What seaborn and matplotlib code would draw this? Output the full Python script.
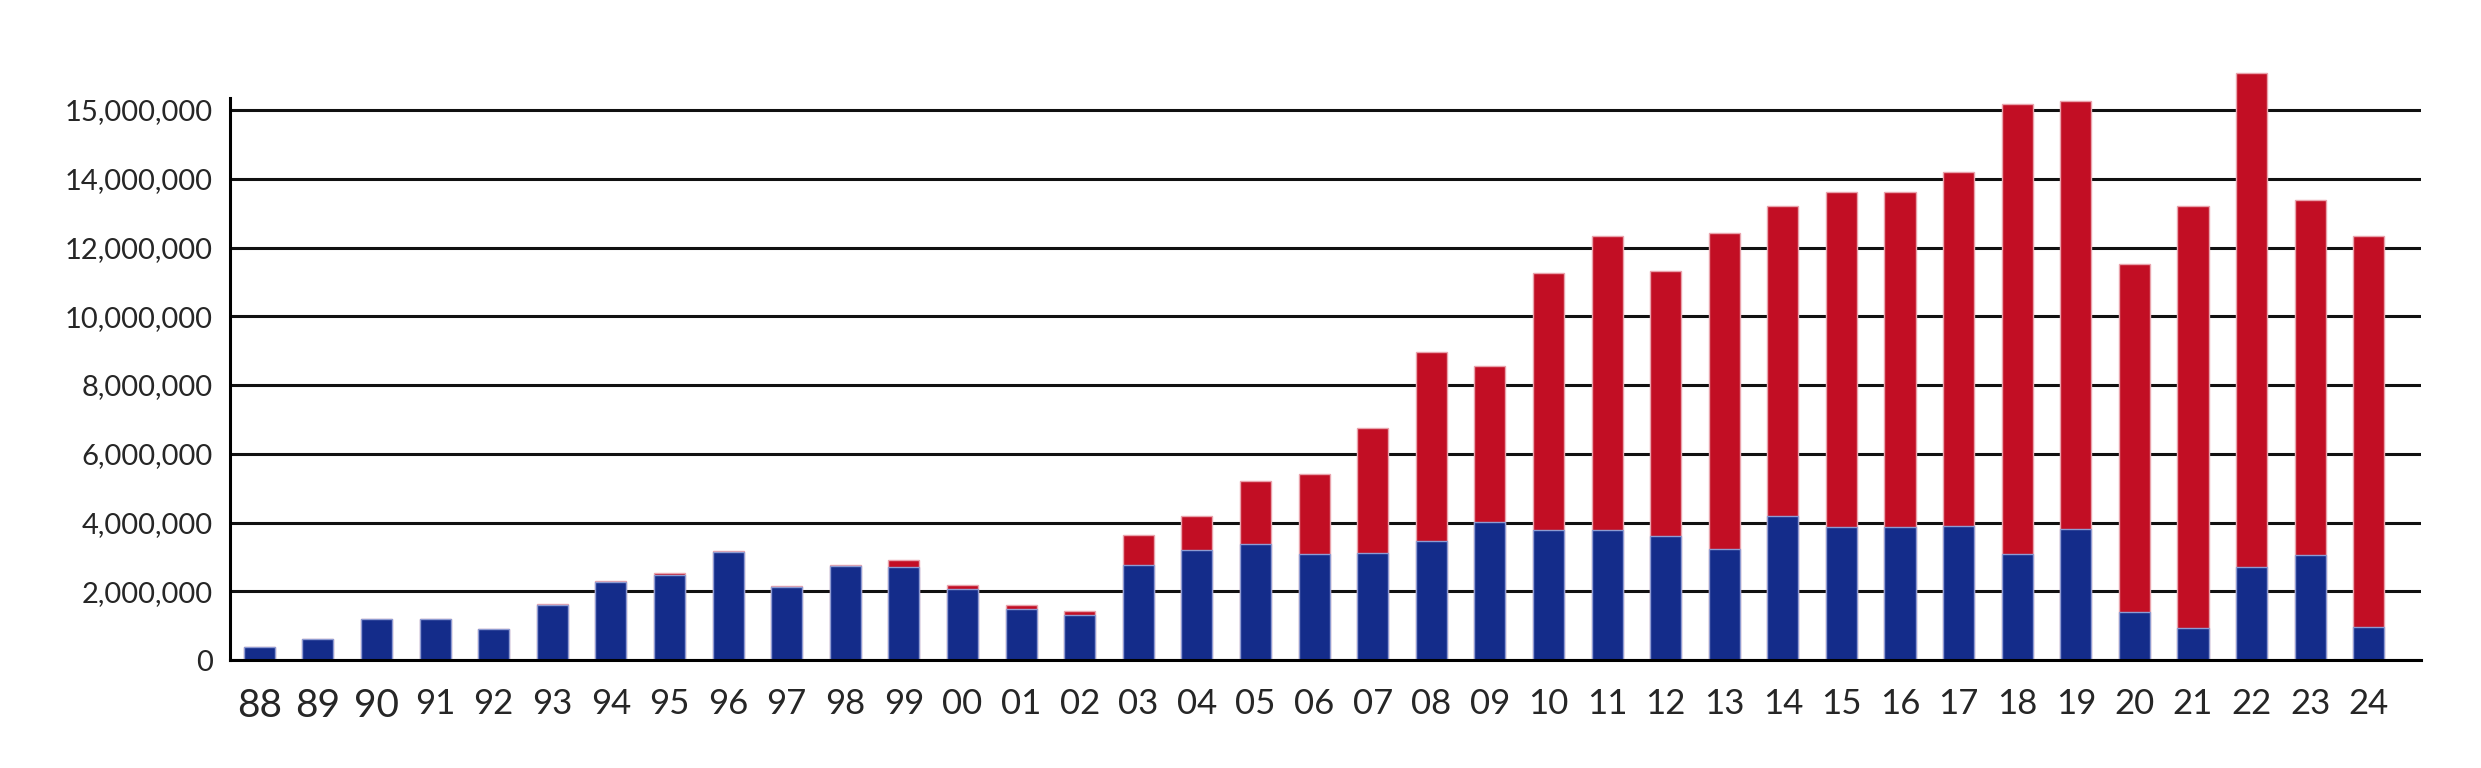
import numpy as np
import pandas as pd
import matplotlib
matplotlib.use("Agg")
import matplotlib.pyplot as plt
import seaborn as sns
from matplotlib.ticker import FixedLocator

# Data (millions)
years = ['88', '89', '90', '91', '92', '93', '94', '95', '96', '97', '98', '99',
         '00', '01', '02', '03', '04', '05', '06', '07', '08', '09', '10', '11',
         '12', '13', '14', '15', '16', '17', '18', '19', '20', '21', '22', '23', '24']
blue_m = [0.39, 0.61, 1.20, 1.18, 0.89, 1.59, 2.26, 2.48, 3.14, 2.13, 2.73, 2.70,
          2.07, 1.47, 1.30, 2.77, 3.21, 3.37, 3.07, 3.10, 3.46, 4.01, 3.77, 3.79,
          3.60, 3.24, 4.19, 3.86, 3.86, 3.91, 3.09, 3.81, 1.41, 0.93, 2.71, 3.06, 0.97]
red_m = [0.0, 0.0, 0.0, 0.0, 0.0, 0.04, 0.03, 0.05, 0.02, 0.02, 0.02, 0.21,
         0.11, 0.13, 0.12, 0.87, 0.98, 1.85, 2.34, 3.64, 5.51, 4.55, 7.50, 8.55,
         7.71, 9.19, 9.02, 9.75, 9.75, 10.30, 13.08, 12.45, 10.10, 12.28, 14.36, 10.33, 11.37]

# tick positions / labels of the value axis as printed on the reference
ytick_vals = [0, 2e6, 4e6, 6e6, 8e6, 10e6, 12e6, 14e6, 16e6]
ytick_labels = ['0', '2,000,000', '4,000,000', '6,000,000', '8,000,000',
                '10,000,000', '12,000,000', '14,000,000', '15,000,000']
big_labels = ['88', '89', '90']

df = pd.DataFrame({
    'year': years,
    'blue': np.array(blue_m) * 1e6,
    'red': np.array(red_m) * 1e6,
})
df['total'] = df['blue'] + df['red']

BLUE = '#142C8A'
RED = '#C20E24'

sns.set_style("white")
plt.rcParams['font.family'] = ['Lato', 'DejaVu Sans']

fig = plt.figure(figsize=(24.81, 7.68), dpi=100)
ax = fig.add_axes([0.0927, 0.1406, 0.9758 - 0.0927, 0.9463 - 0.1406])

# stacked: draw total in red, then blue part on top of it
sns.barplot(data=df, x='year', y='total', order=years, color=RED, width=0.53,
            edgecolor='#E9A3AC', linewidth=1, saturation=1, ax=ax, zorder=3)
sns.barplot(data=df, x='year', y='blue', order=years, color=BLUE, width=0.53,
            edgecolor='#8E9BD2', linewidth=1, saturation=1, ax=ax, zorder=4)

ax.set_xlim(-0.5, 36.89)
ax.set_ylim(0, 18e6)

ax.yaxis.set_major_locator(FixedLocator(ytick_vals))
ax.set_yticklabels(ytick_labels)
ax.grid(axis='y', color='#111111', linewidth=2.2, zorder=0)
ax.set_axisbelow(True)

# category labels at centres, tick marks at the boundaries
ax.set_xticks(range(len(years)))
ax.set_xticklabels(years)
ax.set_xticks(np.arange(-0.5, len(years)), minor=True)
ax.tick_params(axis='x', which='major', length=0, pad=20, labelsize=25)
ax.tick_params(axis='x', which='minor', length=6.5, width=1.8, color='black', direction='out')
ax.tick_params(axis='y', length=4.3, width=1.8, color='black', direction='out', pad=8, labelsize=21)
for lab in ax.get_xticklabels():
    if lab.get_text() in big_labels:
        lab.set_fontsize(28)

for side in ['top', 'right']:
    ax.spines[side].set_visible(False)
for side in ['left', 'bottom']:
    ax.spines[side].set_color('black')
    ax.spines[side].set_linewidth(2.2)
    ax.spines[side].set_zorder(5)
ax.spines['left'].set_bounds(0, 16.35e6)

ax.set_xlabel('')
ax.set_ylabel('')

fig.savefig('out.png', dpi=100, facecolor='white')
